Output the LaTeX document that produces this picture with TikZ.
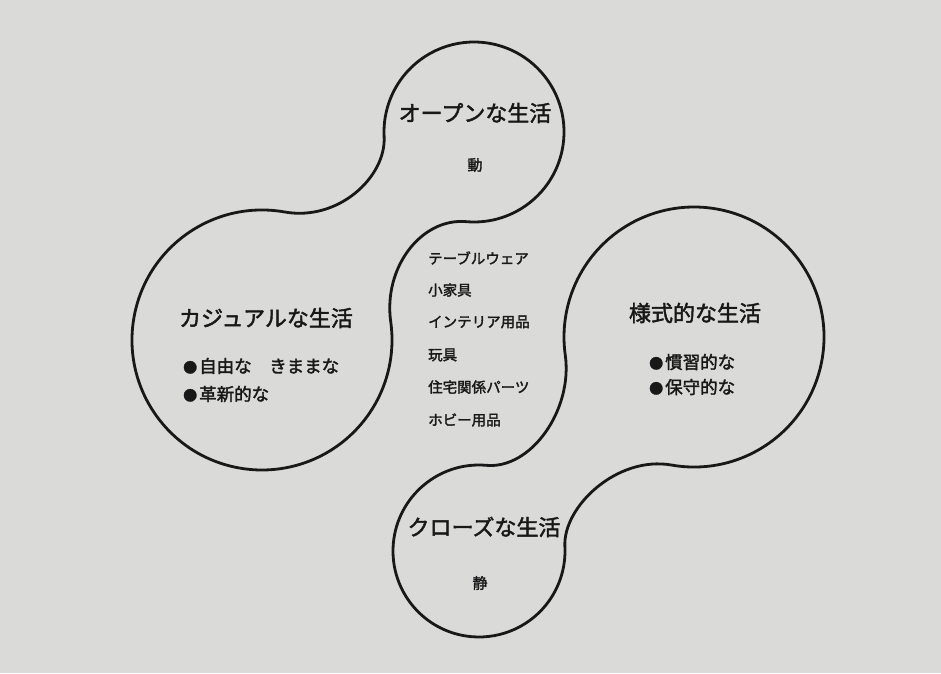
\documentclass[tikz,border=0pt]{standalone}
\usepackage{fontspec}
\setmainfont{Noto Sans CJK JP}
\newfontfamily\jph{Noto Sans CJK JP}[FakeBold=2]
\usetikzlibrary{calc}
\definecolor{paper}{RGB}{218,218,216}
\definecolor{ink}{RGB}{24,24,24}
\newcommand\mybul{{\fontsize{14}{14}\selectfont ●}\hspace{2pt}}
\begin{document}
\begin{tikzpicture}[x=1pt,y=1pt,
  outline/.style={draw=ink, line width=2.8pt, line join=round},
  head/.style={font=\jph\fontsize{22}{22}\selectfont, text=ink, inner sep=0pt},
  sub/.style={font=\jph\fontsize{17.5}{17.5}\selectfont, text=ink, inner sep=0pt, anchor=west},
  item/.style={font=\jph\fontsize{14.5}{14.5}\selectfont, text=ink, inner sep=0pt, anchor=west},
  kanji/.style={font=\jph\fontsize{15}{15}\selectfont, text=ink, inner sep=0pt}]
\fill[paper] (0,0) rectangle (941,673);
\useasboundingbox (0,0) rectangle (941,673);
% circle centres
\coordinate (T) at (474,541);
\coordinate (L) at (262,333);
\coordinate (B) at (479,122);
\coordinate (R) at (694,336);
% blob top + left
\draw[outline] ($(T)+(265:90)$) arc[start angle=265, end angle=543, radius=90]
  .. controls +(273:40) and +(350:55) .. ($(L)+(80:130)$)
  arc[start angle=80, end angle=368, radius=130]
  .. controls +(98:55) and +(175:45) .. ($(T)+(265:90)$) -- cycle;
% blob bottom + right
\draw[outline] ($(B)+(85:86)$) arc[start angle=85, end angle=363, radius=86]
  .. controls +(93:40) and +(170:55) .. ($(R)+(260:130)$)
  arc[start angle=260, end angle=548, radius=130]
  .. controls +(278:55) and +(355:45) .. ($(B)+(85:86)$) -- cycle;
% texts
\node[head] (open) at (475,560) {オープンな生活};
\node[kanji] (dou) at (475,508) {動};
\node[head] (casual) at (266,355) {カジュアルな生活};
\node[sub] (c1) at (183,307) {\mybul 自由な　きままな};
\node[sub] (c2) at (183,279) {\mybul 革新的な};
\node[head] (formal) at (695,360) {様式的な生活};
\node[sub] (f1) at (649,311) {\mybul 慣習的な};
\node[sub] (f2) at (649,286) {\mybul 保守的な};
\node[head] (close) at (484,146) {クローズな生活};
\node[kanji] (sei) at (480,90) {静};
\node[item] (i1) at (428,415) {テーブルウェア};
\node[item] (i2) at (428,383) {小家具};
\node[item] (i3) at (428,351) {インテリア用品};
\node[item] (i4) at (428,318) {玩具};
\node[item] (i5) at (428,286) {住宅関係パーツ};
\node[item] (i6) at (428,253) {ホビー用品};
\end{tikzpicture}
\end{document}
